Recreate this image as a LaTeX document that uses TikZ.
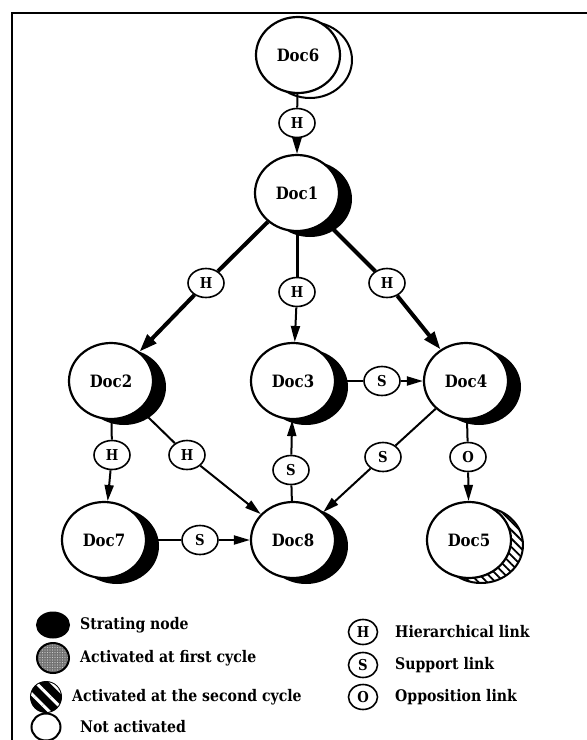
\documentclass[tikz,border=0pt]{standalone}
\usepackage{fontspec}
\setmainfont{DejaVu Serif}[FakeStretch=0.88]
\usetikzlibrary{shapes.geometric,shadows,arrows.meta,patterns.meta}
\begin{document}
\begin{tikzpicture}[x=1pt, y=-1pt,
  doc/.style={ellipse, draw, line width=2.2pt, fill=white, minimum width=84pt, minimum height=76pt, inner sep=0pt, font=\bfseries\fontsize{17}{20}\selectfont},
  started/.style={doc, drop shadow={shadow xshift=13pt, shadow yshift=-6pt, fill=black, opacity=1}},
  idle/.style={doc, drop shadow={shadow xshift=12pt, shadow yshift=-5pt, fill=white, draw=black, line width=2pt, opacity=1}},
  second/.style={doc, drop shadow={shadow xshift=12pt, shadow yshift=-5pt, draw=black, line width=2pt, opacity=1, pattern={Lines[angle=-45, distance=6pt, line width=1.8pt]}}},
  lbl/.style={ellipse, draw, line width=1.6pt, fill=white, minimum width=36pt, minimum height=29pt, inner sep=0pt, font=\bfseries\fontsize{15}{17}\selectfont},
  link/.style={line width=2pt},
  arr/.style={link, -{Triangle[length=16pt, width=9pt]}},
  heavy/.style={line width=4pt, -{Triangle[length=18pt, width=12pt]}},
  key/.style={ellipse, draw, line width=2pt, inner sep=0pt},
  keytext/.style={anchor=west, inner sep=0pt, font=\bfseries\fontsize{16}{18}\selectfont}]
\useasboundingbox (0,0) rectangle (587,740);
\draw[line width=1.8pt] (587,13) -- (12,13) -- (12,740);
\node[idle] (doc6) at (298,55){Doc6};
\node[started] (doc1) at (297,193){Doc1};
\node[started] (doc2) at (111,381){Doc2};
\node[started] (doc3) at (293,381){Doc3};
\node[started] (doc4) at (466,381){Doc4};
\node[started] (doc7) at (104,540){Doc7};
\node[started] (doc8) at (293,540){Doc8};
\node[second] (doc5) at (469,540){Doc5};
\node[lbl] (h61) at (297,123){H};
\node[lbl] (h12) at (206,283){H};
\node[lbl] (h13) at (297,292){H};
\node[lbl] (h14) at (387,283){H};
\node[lbl] (s34) at (382,381){S};
\node[lbl] (h27) at (112,455){H};
\node[lbl] (h28) at (187,455){H};
\node[lbl] (s83) at (291,470){S};
\node[lbl] (s48) at (383,457){S};
\node[lbl] (o45) at (468,457){O};
\node[lbl] (s78) at (200,540){S};
\draw[link](doc6) -- (h61);
\draw[arr](h61) -- (doc1);
\draw[line width=4pt](doc1) -- (h12);
\draw[heavy](h12) -- (doc2);
\draw[line width=3pt](doc1) -- (h13);
\draw[arr](h13) -- (doc3);
\draw[line width=4pt](doc1) -- (h14);
\draw[heavy](h14) -- (doc4);
\draw[link](doc3) -- (s34);
\draw[arr](s34) -- (doc4);
\draw[link](doc2) -- (h27);
\draw[arr](h27) -- (doc7);
\draw[link](doc2) -- (h28);
\draw[arr](h28) -- (doc8);
\draw[link](doc8) -- (s83);
\draw[arr](s83) -- (doc3);
\draw[link](doc4) -- (s48);
\draw[arr](s48) -- (doc8);
\draw[link](doc4) -- (o45);
\draw[arr](o45) -- (doc5);
\draw[link](doc7) -- (s78);
\draw[arr](s78) -- (doc8);
\node[key, fill=black, minimum width=32pt, minimum height=25pt] (kstart) at (53,625){};
\node[key, preaction={fill=black!55}, pattern={Dots[distance=2.5pt, radius=.6pt]}, pattern color=black!20, minimum width=32pt, minimum height=30pt] (kfirst) at (53,658){};
\node[key, fill=black, postaction={pattern={Lines[angle=-45, distance=11pt, line width=3pt]}, pattern color=white}, minimum width=30pt, minimum height=30pt] (ksecond) at (46,697){};
\node[key, minimum width=29pt, minimum height=27pt] (knone) at (46,727){};
\node[keytext] (tstart) at (80,625){Strating node};
\node[keytext] (tfirst) at (80,658){Activated at first cycle};
\node[keytext] (tsecond) at (72,697){Activated at the second cycle};
\node[keytext] (tnone) at (80,727){Not activated};
\node[lbl, minimum width=29pt, minimum height=25pt] (kh) at (363,632){H};
\node[lbl, minimum width=29pt, minimum height=25pt] (ks) at (363,665){S};
\node[lbl, minimum width=29pt, minimum height=25pt] (ko) at (363,697){O};
\node[keytext] (th) at (395,632){Hierarchical link};
\node[keytext] (ts) at (395,665){Support link};
\node[keytext] (to) at (395,697){Opposition link};
\end{tikzpicture}
\end{document}
